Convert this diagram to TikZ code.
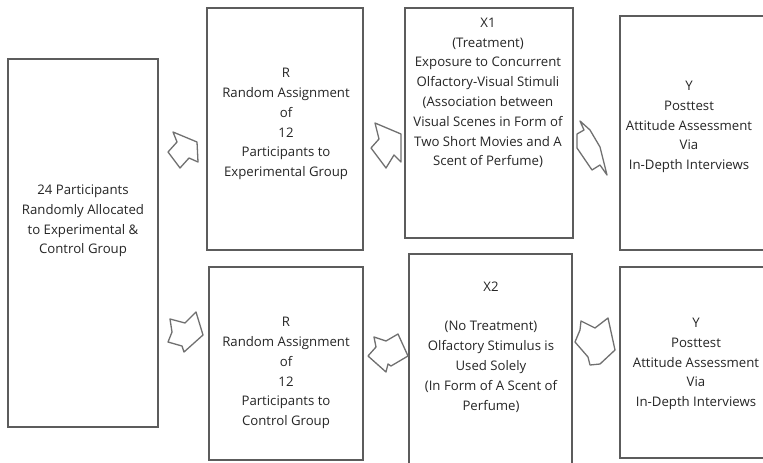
\documentclass[tikz,border=0pt]{standalone}
\usepackage{fontspec}
\setmainfont{Open Sans}
\definecolor{boxline}{HTML}{5C5C5C}
\definecolor{arrline}{HTML}{707070}
\definecolor{txt}{HTML}{262626}
\begin{document}
\begin{tikzpicture}[x=1pt,y=-1pt,
  box/.style={draw=boxline,line width=1.4pt,fill=white},
  lbl/.style={align=center,text=txt,inner sep=0pt,font=\fontsize{13.2}{19.8}\selectfont},
  blockarrow/.style={draw=arrline,line width=1.3pt,fill=white,line join=round}]
\useasboundingbox (0,0) rectangle (763,463);
\fill[white] (0,0) rectangle (763,463);
\clip (0,0) rectangle (763,463);
% boxes
\draw[box] (8,59) rectangle (158,427);
\draw[box] (207,8) rectangle (363,250);
\draw[box] (209,267) rectangle (363,460);
\draw[box] (405,8) rectangle (573,238);
\draw[box] (409,254) rectangle (572,468);
\draw[box] (620,16) rectangle (790,250);
\draw[box] (620,267) rectangle (790,458);
% texts
\node[lbl] (ta) at (83,221) {24 Participants\\Randomly Allocated\\to Experimental \&\\Control Group};
\node[lbl] (tb) at (286,124) {R\\Random Assignment\\of\\12\\Participants to\\Experimental Group};
\node[lbl] (tc) at (286,373) {R\\Random Assignment\\of\\12\\Participants to\\Control Group};
\node[lbl] (td) at (488,93) {X1\\(Treatment)\\Exposure to Concurrent\\Olfactory-Visual Stimuli\\(Association between\\Visual Scenes in Form of\\Two Short Movies and A\\Scent of Perfume)};
\node[lbl] (te) at (491,347) {X2\\[19.8pt](No Treatment)\\Olfactory Stimulus is\\Used Solely\\(In Form of A Scent of\\Perfume)};
\node[lbl] (tf) at (689,127) {Y\\Posttest\\Attitude Assessment\\Via\\In-Depth Interviews};
\node[lbl] (tg) at (696,364) {Y\\Posttest\\Attitude Assessment\\Via\\In-Depth Interviews};
% block arrows
\draw[blockarrow] (173,132) -- (197,142) -- (198,162) -- (189,158) -- (180,168) -- (168,152) -- (177,142) -- cycle;
\draw[blockarrow] (375,123) -- (401,134) -- (401,162) -- (394,155) -- (386,168) -- (371,148) -- (379,139) -- cycle;
\draw[blockarrow] (580,121) -- (590,130) -- (600,147) -- (607,175) -- (600,165) -- (592,170) -- (577,148) -- (577,134) -- (584,130) -- cycle;
\draw[blockarrow] (170,319) -- (185,323) -- (196,312) -- (203,335) -- (184,352) -- (182,346) -- (168,342) -- (172,332) -- cycle;
\draw[blockarrow] (374,337) -- (386,341) -- (398,334) -- (408,356) -- (391,366) -- (388,364) -- (386,372) -- (368,356) -- (376,347) -- cycle;
\draw[blockarrow] (581,321) -- (595,328) -- (608,318) -- (615,350) -- (600,364) -- (590,365) -- (588,357) -- (575,342) -- (580,330) -- cycle;
\end{tikzpicture}
\end{document}
